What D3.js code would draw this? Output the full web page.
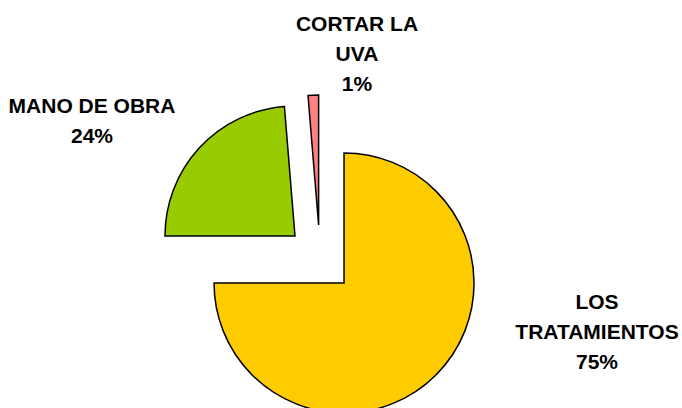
<!DOCTYPE html>
<html lang="es">
<head>
    <meta charset="UTF-8">
    <title>Pie chart</title>
    <script src="https://d3js.org/d3.v7.min.js"></script>
    <style>
        body{ margin:0; background:#fff; }
        .labels{
            fill:#000;
            font-size:21px;
            font-weight:bold;
            font-family:"Liberation Sans", Arial, Helvetica, sans-serif;
        }
    </style>
</head>
<body>
<svg id="main" width="682" height="408"></svg>
<script>
    // data
    let categories = ['LOS TRATAMIENTOS', 'MANO DE OBRA', 'CORTAR LA UVA'];
    let labelLines = [['LOS', 'TRATAMIENTOS'], ['MANO DE OBRA'], ['CORTAR LA', 'UVA']];
    let values = [75.0, 23.7, 1.3];
    let sliceColors = ['#FFCC00', '#99CC00', '#FF8080'];

    let svg = d3.select('svg#main');
    let cx = 320, cy = 259, radius = 130, explode = 34;

    let pie = d3.pie().sort(null).value(function(d){return d;});
    let arcs = pie(values);
    let total = d3.sum(values);
    let arc = d3.arc().innerRadius(0).outerRadius(radius);

    let g = svg.append('g').attr('transform', 'translate(' + cx + ',' + cy + ')');

    function shift(d, dist){
        let a = (d.startAngle + d.endAngle) / 2;
        return [Math.sin(a) * dist, -Math.cos(a) * dist];
    }

    g.selectAll('path')
        .data(arcs)
        .enter()
        .append('path')
        .attr('d', arc)
        .attr('transform', function(d){ let s = shift(d, explode); return 'translate(' + s[0] + ',' + s[1] + ')'; })
        .style('fill', function(d, i){return sliceColors[i];})
        .style('stroke', '#000')
        .style('stroke-width', 1.5)
        .style('stroke-linejoin', 'miter');

    // label block centres, relative to the pie centre
    let labelAnchor = [[277, 72], [-228, -139], [37, -206]];
    let lineH = 30;

    let labels = g.selectAll('text')
        .data(arcs)
        .enter()
        .append('text')
        .attr('class', 'labels')
        .attr('text-anchor', 'middle');

    labels.each(function(d, i){
        let lines = labelLines[i].concat([Math.round(d.data / total * 100) + '%']);
        let top = labelAnchor[i][1] - (lines.length - 1) * lineH / 2 + 7.5;
        d3.select(this).selectAll('tspan')
            .data(lines)
            .enter()
            .append('tspan')
            .attr('x', labelAnchor[i][0])
            .attr('y', function(l, j){return top + j * lineH;})
            .text(function(l){return l;});
    });
</script>
</body>
</html>
